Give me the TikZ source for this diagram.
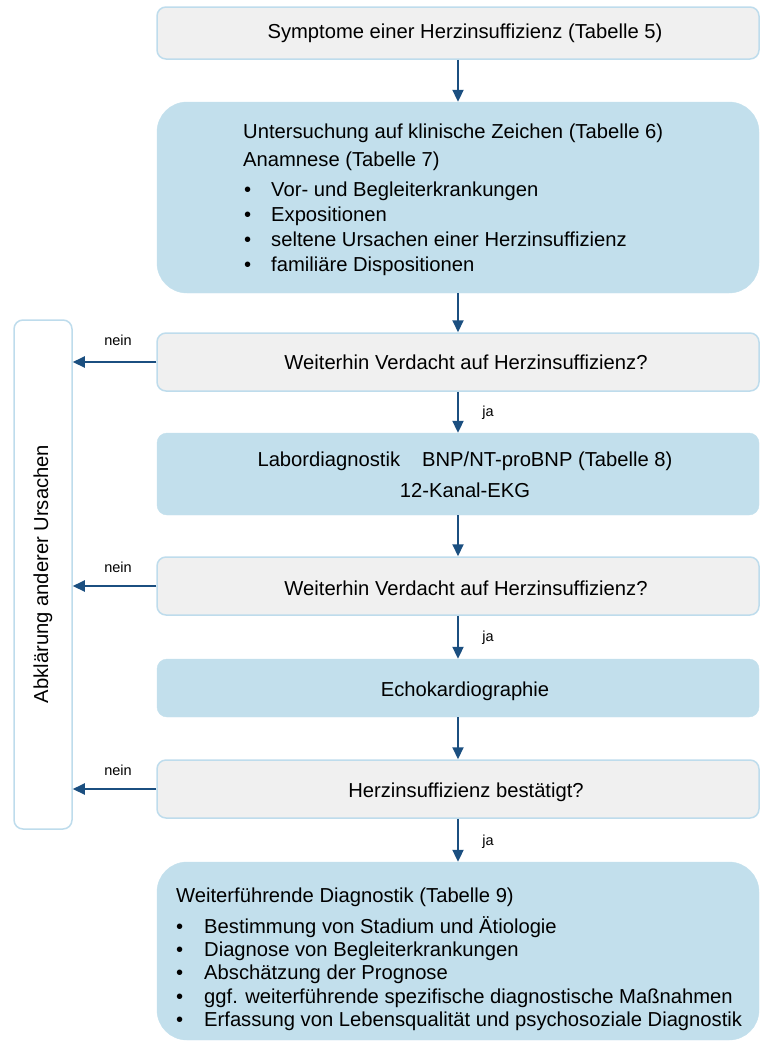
\documentclass[tikz,border=0pt]{standalone}
\usepackage{fontspec}
\setmainfont{Liberation Sans}
\usetikzlibrary{arrows.meta}

\definecolor{graufill}{HTML}{F0F0F0}
\definecolor{hellblau}{HTML}{C2DFEC}
\definecolor{randblau}{HTML}{BEDCEC}
\definecolor{pfeilblau}{HTML}{1B4F80}

\tikzset{
  graubox/.style={draw=randblau, line width=1.5pt, fill=graufill, rounded corners=9pt,
    minimum width=602pt, inner sep=0pt},
  blaubox/.style={draw=hellblau, fill=hellblau, rounded corners=10pt,
    minimum width=602pt, inner sep=0pt},
  pfeil/.style={draw=pfeilblau, line width=2pt, -{Triangle[length=12pt,width=11pt]}},
  txt/.style={font=\fontsize{20.2}{25}\selectfont, inner sep=0pt},
  klein/.style={font=\fontsize{14.5}{17}\selectfont, inner sep=0pt},
}
% Aufzaehlungspunkt: Einzug vor dem Punkt, Text immer 28pt eingerueckt
\newcommand{\bpunkt}[2][1pt]{\hspace*{#1}\makebox[\dimexpr28pt-#1\relax][l]{\textbullet}#2}

\begin{document}
\begin{tikzpicture}[x=1pt, y=-1pt]
            \useasboundingbox (0,0) rectangle (762,1045);

            % Kaesten
            \node[graubox, minimum height=52pt] (symp) at (458,33) {};
            \node[blaubox, rounded corners=30pt, minimum height=191pt] (unters) at (458,197.5) {};
            \node[graubox, minimum height=58pt] (verd1) at (458,362) {};
            \node[blaubox, minimum height=82pt] (labor) at (458,474) {};
            \node[graubox, minimum height=58pt] (verd2) at (458,586) {};
            \node[blaubox, minimum height=58pt] (echo) at (458,688) {};
            \node[graubox, minimum height=58pt] (best) at (458,789) {};
            \node[blaubox, rounded corners=30pt, minimum height=178pt] (weiter) at (458,951) {};
            \node[draw=randblau, line width=1.5pt, fill=white, rounded corners=9pt,
              minimum width=58pt, minimum height=509pt, inner sep=0pt] (abkl) at (43,574.5) {};

            % Texte
            \node[txt] (t-symp) at (465,33) {Symptome einer Herzinsuffizienz (Tabelle 5)};
            \node[txt, anchor=north west, align=left] (t-unters) at (243,124)
              {Untersuchung auf klinische Zeichen (Tabelle 6)\\[3pt]
               Anamnese (Tabelle 7)\\[5pt]
               \bpunkt{Vor- und Begleiterkrankungen}\\
               \bpunkt{Expositionen}\\
               \bpunkt{seltene Ursachen einer Herzinsuffizienz}\\
               \bpunkt{familiäre Dispositionen}};
            \node[txt] (t-verd1) at (466,362) {Weiterhin Verdacht auf Herzinsuffizienz?};
            \node[txt, align=center] (t-labor) at (465,475)
              {Labordiagnostik\hspace{22pt}BNP/NT-proBNP (Tabelle 8)\\[6pt] 12-Kanal-EKG};
            \node[txt] (t-verd2) at (466,588) {Weiterhin Verdacht auf Herzinsuffizienz?};
            \node[txt] (t-echo) at (465,691) {Echokardiographie};
            \node[txt] (t-best) at (466,792) {Herzinsuffizienz bestätigt?};
            \node[txt, anchor=north west, align=left, font=\fontsize{20.2}{23.2}\selectfont] (t-weiter) at (176,887.5)
              {Weiterführende Diagnostik (Tabelle 9)\\[8pt]
               \bpunkt[0pt]{Bestimmung von Stadium und Ätiologie}\\
               \bpunkt[0pt]{Diagnose von Begleiterkrankungen}\\
               \bpunkt[0pt]{Abschätzung der Prognose}\\
               \bpunkt[0pt]{ggf. weiterführende spezifische diagnostische Maßnahmen}\\
               \bpunkt[0pt]{Erfassung von Lebensqualität und psychosoziale Diagnostik}};
            \node[txt, rotate=90] (t-abkl) at (43,574) {Abklärung anderer Ursachen};

            % Pfeile nach unten
            \draw[pfeil] (symp.south) -- (unters.north);
            \draw[pfeil] (unters.south) -- (verd1.north);
            \draw[pfeil] (verd1.south) -- (labor.north);
            \draw[pfeil] (labor.south) -- (verd2.north);
            \draw[pfeil] (verd2.south) -- (echo.north);
            \draw[pfeil] (echo.south) -- (best.north);
            \draw[pfeil] (best.south) -- (weiter.north);

            % nein-Pfeile
            \draw[pfeil] (verd1.west) -- (verd1.west -| abkl.east);
            \draw[pfeil] (verd2.west) -- (verd2.west -| abkl.east);
            \draw[pfeil] (best.west) -- (best.west -| abkl.east);

            % Beschriftungen
            \node[klein] (nein1) at (118,340) {nein};
            \node[klein] (nein2) at (118,567) {nein};
            \node[klein] (nein3) at (118,770) {nein};
            \node[klein] (ja1) at (488,413) {ja};
            \node[klein] (ja2) at (488,638) {ja};
            \node[klein] (ja3) at (488,842) {ja};
        \end{tikzpicture}
\end{document}
